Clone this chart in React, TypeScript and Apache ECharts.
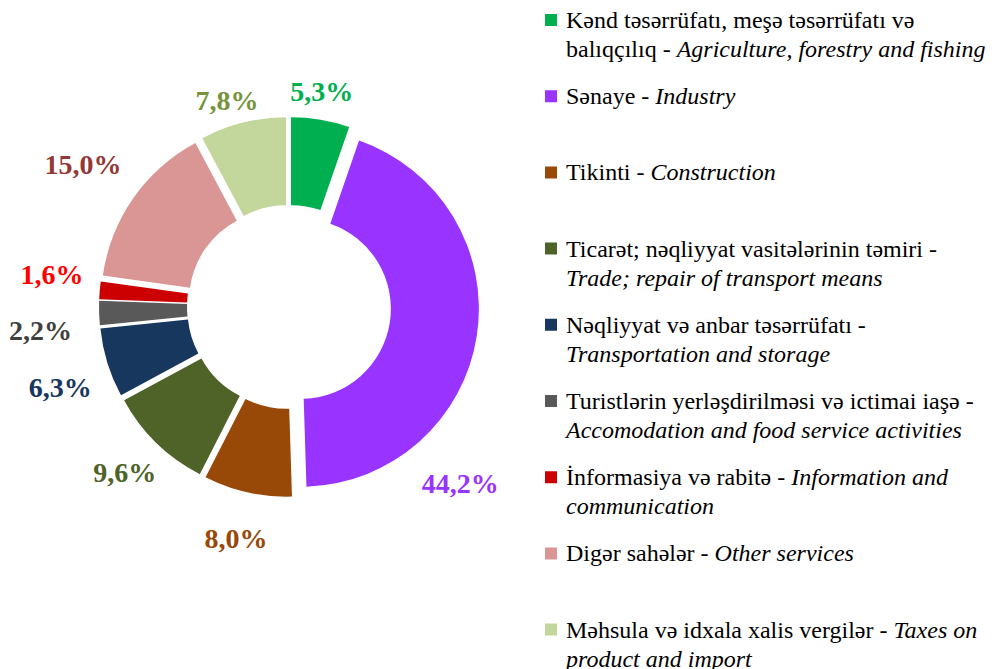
import React, { useEffect, useRef } from "react";
import * as echarts from "echarts";

// ---- data ----
const categoriesAz = [
  "Kənd təsərrüfatı, meşə təsərrüfatı və\nbalıqçılıq",
  "Sənaye",
  "Tikinti",
  "Ticarət; nəqliyyat vasitələrinin təmiri",
  "Nəqliyyat və anbar təsərrüfatı",
  "Turistlərin yerləşdirilməsi və ictimai iaşə",
  "İnformasiya və rabitə",
  "Digər sahələr",
  "Məhsula və idxala xalis vergilər",
];
const categoriesEn = [
  "Agriculture, forestry and fishing",
  "Industry",
  "Construction",
  "\nTrade; repair of transport means",
  "\nTransportation and storage",
  "\nAccomodation and food service activities",
  "Information and\ncommunication",
  "Other services",
  "Taxes on\nproduct and import",
];
const shares = [5.3, 44.2, 8.0, 9.6, 6.3, 2.2, 1.6, 15.0, 7.8];

// ---- styles ----
const sliceColors = ["#00B050", "#9933FF", "#984807", "#4F6228", "#17375E", "#595959", "#CC0000", "#D99694", "#C3D69B"];
const labelColors = ["#00B050", "#9933FF", "#984807", "#4F6228", "#17375E", "#404040", "#FF0000", "#953735", "#77933C"];
const labelGap = [199, 209, 217, 201, 208, 217, 206, 211, 193];
const labelAngleShift = [0.9, -37.2, -0.3, -0.5, 2.2, 3.5, -2.7, 0.2, 2.7];

const CX = 289;
const CY = 307;
const FONT = "'Liberation Serif', 'Times New Roman', serif";
const LABEL_SIZE = 28;
const LABEL_LH = 28;

const names = categoriesAz.map((az, i) => (az + " - " + categoriesEn[i]).replace(/\n/g, " "));
const shareText = (v: number) => v.toFixed(1).replace(".", ",") + "%";

function richLegend(i: number): string {
  const parts = [
    { s: "n", t: categoriesAz[i] + " - " },
    { s: "i", t: categoriesEn[i] },
  ];
  let out = "";
  for (const p of parts) {
    const pieces = p.t.split("\n");
    pieces.forEach((piece, k) => {
      if (k > 0) out += "\n";
      if (piece) out += `{${p.s}|${piece}}`;
    });
  }
  if (!out.includes("\n")) out += "\n{n| }";
  return out;
}

function midAngle(i: number): number {
  const total = shares.reduce((a, b) => a + b, 0);
  let cum = 0;
  for (let k = 0; k < i; k++) cum += shares[k];
  const mid = cum + shares[i] / 2;
  return 90 - (mid / total) * 360;
}

// approximate label box for positioning (Times bold advance widths)
function labelWidth(s: string): number {
  let em = 0;
  for (const ch of s) em += ch === "," ? 0.25 : ch === "%" ? 1.0 : 0.5;
  return em * LABEL_SIZE;
}

const labelPoints = shares.map((v, i) => {
  const deg = midAngle(i) + labelAngleShift[i];
  const a = (deg * Math.PI) / 180;
  const w = labelWidth(shareText(v));
  const support = (Math.abs(Math.cos(a)) * w) / 2 + (Math.abs(Math.sin(a)) * LABEL_LH) / 2;
  const r = labelGap[i] + support;
  const angle = ((deg % 360) + 360) % 360;
  return {
    value: [r, angle],
    label: { color: labelColors[i] },
  };
});

export default function App() {
  const ref = useRef<HTMLDivElement>(null);
  useEffect(() => {
    if (!ref.current) return;
    const chart = echarts.init(ref.current, undefined, { renderer: "svg" });
    const option: any = {
      animation: false,
      backgroundColor: "#ffffff",
      polar: { center: [CX, CY], radius: 300 },
      angleAxis: {
        type: "value",
        min: 0,
        max: 360,
        startAngle: 0,
        clockwise: false,
        show: false,
        axisLine: { show: false },
        axisTick: { show: false },
        axisLabel: { show: false },
        splitLine: { show: false },
      },
      radiusAxis: {
        type: "value",
        min: 0,
        max: 300,
        show: false,
        axisLine: { show: false },
        axisTick: { show: false },
        axisLabel: { show: false },
        splitLine: { show: false },
      },
      legend: {
        orient: "vertical",
        left: 545,
        top: 5.5,
        height: 1200,
        padding: 0,
        itemGap: 18.2,
        itemWidth: 16,
        itemHeight: 58,
        icon: "path://M0,0h0.01v0.01h-0.01Z M16,58h-0.01v-0.01h0.01Z M0,8.5h12v12h-12Z",
        itemStyle: { borderWidth: 0 },
        data: names,
        formatter: (name: string) => richLegend(names.indexOf(name)),
        textStyle: {
          fontFamily: FONT,
          fontSize: 24,
          lineHeight: 29,
          color: "#000000",
          rich: {
            n: { fontFamily: FONT, fontSize: 24, lineHeight: 29, color: "#000000" },
            i: { fontFamily: FONT, fontSize: 24, lineHeight: 29, color: "#000000", fontStyle: "italic" },
          },
        },
      },
      series: [
        {
          type: "pie",
          center: [CX, CY],
          radius: [90, 178],
          startAngle: 90,
          clockwise: true,
          selectedMode: "multiple",
          selectedOffset: 12,
          avoidLabelOverlap: false,
          itemStyle: { borderWidth: 0 },
          select: { itemStyle: { borderWidth: 0 } },
          emphasis: { scale: false },
          label: { show: false },
          labelLine: { show: false },
          data: shares.map((v, i) => ({
            name: names[i],
            value: v,
            selected: true,
            itemStyle: { color: sliceColors[i] },
          })),
        },
        {
          type: "scatter",
          name: "labels",
          coordinateSystem: "polar",
          symbolSize: 1,
          silent: true,
          itemStyle: { color: "rgba(0,0,0,0)", opacity: 1 },
          label: {
            show: true,
            position: "inside",
            fontFamily: FONT,
            fontSize: LABEL_SIZE,
            fontWeight: "bold",
            lineHeight: LABEL_LH,
            opacity: 1,
            textBorderWidth: 0,
            textBorderColor: "transparent",
            formatter: (p: any) => shareText(shares[p.dataIndex]),
          },
          data: labelPoints,
        },
      ],
    };
    chart.setOption(option);
    return () => chart.dispose();
  }, []);
  return (
    <div
      ref={ref}
      style={{ position: "fixed", left: 0, top: 0, width: 992, height: 669, background: "#fff" }}
    />
  );
}
